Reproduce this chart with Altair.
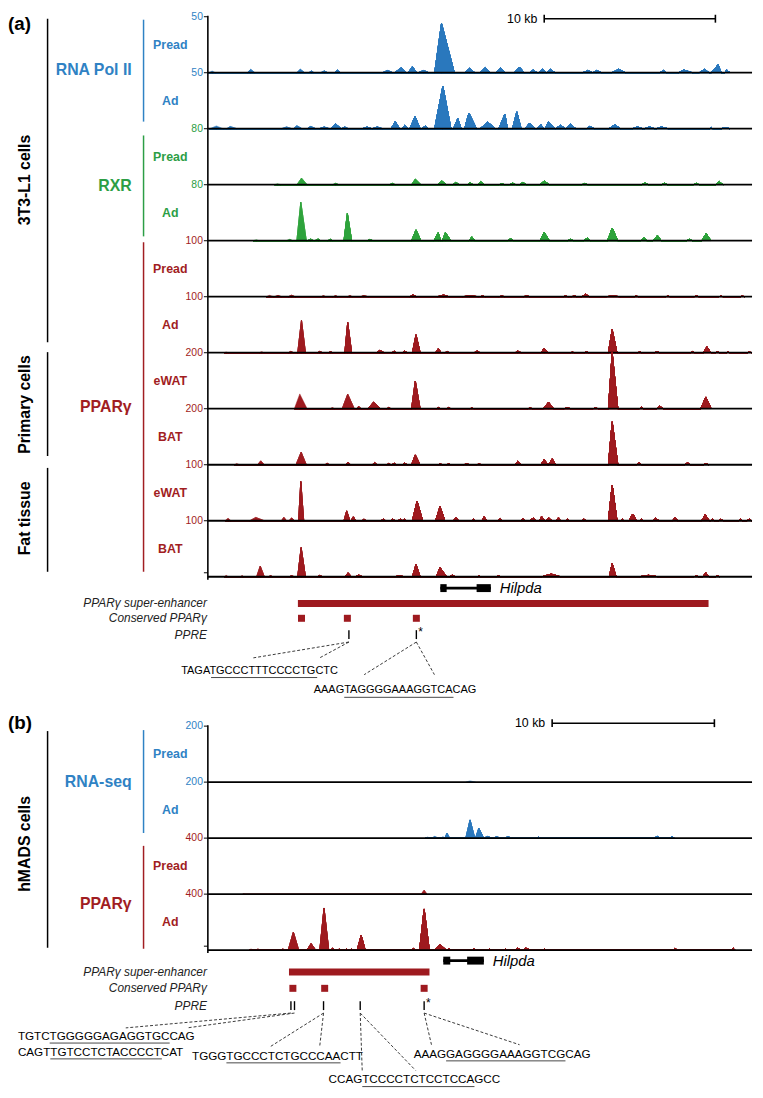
import altair as alt
import pandas as pd

FONT = "Liberation Sans"

# ---------------- signal tracks: peaks (start_kb, apex_kb, end_kb, signal) ----------------
POL2_PREAD = [(0.05,0.25,0.45,1.5),(2.3,2.5,2.75,3),(5.2,5.4,5.65,3),(5.9,6.05,6.2,1.5),(6.6,6.8,7.0,1.5),
              (7.4,7.55,7.75,2.5),(10.2,10.5,10.9,2),(10.8,11.3,11.7,4.5),(11.6,11.95,12.3,5.5),(12.2,12.6,12.9,2),
              (13.25,13.65,14.4,44),(15.0,15.3,15.6,4),(15.9,16.2,16.5,4.5),(16.8,17.1,17.4,4.5),(17.9,18.2,18.5,5),
              (18.8,19.0,19.25,2.5),(19.3,19.55,19.8,3),(19.8,20.0,20.3,3),(21.9,22.2,22.5,2),(22.5,22.7,23.0,2),
              (23.6,24.0,24.4,3),(26.4,26.6,26.8,2),(27.5,27.8,28.3,2.5),(28.7,29.0,29.3,3),(29.4,29.8,30.2,7),
              (30.0,30.3,30.5,2.5)]
POL2_AD = [(0.1,0.5,1.1,2.5),(0.9,1.3,1.7,2),(4.3,4.6,4.9,1.5),(5.0,5.2,5.5,2.5),(5.8,6.0,6.3,2),(6.5,6.8,7.1,1.5),
           (7.2,7.45,7.8,4.5),(7.8,8.0,8.2,1.5),(9.0,9.3,9.6,1.5),(9.6,9.9,10.2,1.5),(10.7,10.95,11.3,6.5),
           (11.2,11.5,11.8,3),(11.7,12.1,12.5,11),(12.4,12.7,12.9,2.5),(13.25,13.73,14.35,38),(14.2,14.6,15.0,9),
           (14.8,15.25,15.9,14),(15.7,16.35,17.0,6),(16.8,17.35,17.8,13),(17.5,18.05,18.5,15),(18.3,18.8,19.2,5),
           (19.1,19.45,19.7,4),(19.6,19.9,20.3,6),(20.3,20.6,20.9,3),(20.9,21.2,21.5,4),(22.1,22.3,22.6,2),
           (23.4,23.8,24.1,3.5),(24.8,25.1,25.4,1.5),(25.5,25.8,26.1,1.5),(26.2,26.5,26.9,1.5),(29.3,29.4,29.5,1),
           (30.0,30.2,30.5,1)]
RXR_PREAD = [(3.9,4.07,4.25,1.5),(5.2,5.47,5.8,9.5),(7.3,7.47,7.65,2),(10.6,10.78,10.95,2),(11.9,12.12,12.45,8),
             (13.4,13.67,13.95,5.5),(14.3,14.49,14.7,3.5),(15.15,15.32,15.5,3),(15.75,15.94,16.15,4.5),
             (17.0,17.17,17.35,1.5),(17.6,17.8,18.0,2.5),(18.2,18.41,18.6,3.5),(19.4,19.65,19.95,5.5),
             (21.85,22.03,22.2,2),(25.35,25.54,25.75,2.5),(26.5,26.67,26.85,2),(28.35,28.53,28.7,2),(29.65,29.87,30.1,4.5)]
RXR_AD = [(2.65,2.83,3.0,1.5),(4.6,4.79,4.95,2),(5.2,5.43,5.75,55),(5.8,6.0,6.2,2.5),(6.25,6.44,6.6,2.5),
          (7.0,7.16,7.3,2),(7.95,8.15,8.4,39),(9.3,9.47,9.65,2),(11.9,12.16,12.45,15.5),(13.2,13.46,13.7,11.5),
          (13.6,13.88,14.2,11.5),(15.25,15.42,15.6,5.5),(17.5,17.69,17.85,3),(19.4,19.65,19.95,12),(21.0,21.2,21.35,2),
          (21.95,22.17,22.35,4),(23.35,23.62,23.95,18),(25.3,25.48,25.65,4.5),(26.0,26.26,26.5,7),(27.95,28.12,28.3,2),
          (28.85,29.11,29.4,10)]
PPARG_PREAD = [(3.4,3.6,3.85,2.5),(3.9,4.1,4.3,2.5),(4.7,4.89,5.1,2.5),(6.6,6.75,6.9,1.2),(7.3,7.47,7.6,1.2),
               (8.15,8.3,8.45,1.2),(8.9,9.1,9.4,1.2),(11.8,11.97,12.2,3.5),(13.4,13.77,14.1,3),(14.9,15.3,15.8,2),
               (15.9,16.04,16.2,1.5),(17.0,17.17,17.35,1.2),(18.45,18.62,18.8,1.8),(20.75,20.89,21.05,1.2),
               (21.25,21.41,21.55,1.5),(21.85,22.07,22.3,4.5),(23.2,23.68,24.1,1.2),(24.9,25.02,25.15,1.2),
               (26.75,26.88,27.0,1.2),(28.4,28.53,28.7,1.2),(29.85,29.97,30.1,1.2),(31.1,31.21,31.35,1.2)]
PPARG_AD = [(0.95,1.07,1.2,1.2),(3.0,3.14,3.3,1.2),(4.7,4.85,5.0,2.5),(5.25,5.47,5.7,58),(6.4,6.54,6.7,2.5),
            (7.05,7.16,7.3,2),(8.0,8.17,8.4,54),(9.85,10.05,10.3,4.5),(10.75,10.88,11.0,3),(11.35,11.5,11.65,3),
            (11.95,12.16,12.4,32),(13.3,13.46,13.65,7),(13.85,13.98,14.1,2),(15.55,15.73,15.9,3),(17.95,18.1,18.3,3),
            (19.45,19.65,19.9,8),(21.2,21.3,21.4,1.2),(22.0,22.13,22.25,2),(23.4,23.62,23.9,41),(25.1,25.23,25.35,1.2),
            (26.1,26.26,26.4,2),(28.2,28.33,28.45,2),(28.95,29.15,29.4,10.5),(29.65,29.77,29.9,2),(30.3,30.39,30.5,1.2),
            (31.5,31.63,31.75,1.2)]
PPARG_EWAT_PRIMARY = [(5.05,5.37,5.8,53),(7.15,7.27,7.4,3.5),(7.85,8.17,8.55,52),(8.7,8.81,8.95,9),(9.35,9.68,10.1,24),
                      (10.45,10.57,10.7,4.5),(11.9,12.12,12.4,99),(13.35,13.46,13.6,4.5),(13.95,14.08,14.2,4.5),
                      (15.3,15.42,15.55,2.5),(18.7,18.83,18.95,3.5),(19.6,19.9,20.2,23.5),(20.8,21.0,21.2,3.5),
                      (22.5,22.65,22.8,3.5),(23.4,23.62,23.95,200),(25.2,25.33,25.45,6),(26.2,26.4,26.6,9.5),
                      (28.8,29.09,29.4,42)]
PPARG_BAT_PRIMARY = [(1.55,1.69,1.85,4.5),(2.9,3.09,3.3,14),(5.15,5.45,5.75,45),(6.85,6.96,7.1,6),(8.05,8.19,8.35,9.5),
                     (9.6,9.74,9.9,8),(10.45,10.57,10.7,4.5),(10.75,10.88,11.0,6),(11.35,11.5,11.65,6),(11.9,12.12,12.4,35),
                     (13.45,13.56,13.7,3.5),(13.95,14.08,14.2,3.5),(14.95,15.11,15.3,3.5),(15.7,15.84,16.0,2.5),
                     (17.9,18.1,18.3,12),(19.45,19.65,19.85,19),(19.9,20.12,20.3,21),(23.4,23.62,23.95,153),
                     (25.05,25.19,25.35,7),(27.85,28.02,28.2,7),(28.95,29.09,29.25,3.5)]
PPARG_EWAT_TISSUE = [(1.0,1.18,1.35,4.7),(2.45,2.8,3.3,5.9),(4.3,4.44,4.6,5.9),(4.75,4.89,5.05,4.7),(5.3,5.43,5.6,70),
                     (7.95,8.11,8.3,17.6),(8.35,8.5,8.65,7),(9.0,9.12,9.25,3),(10.1,10.26,10.4,3),(10.65,10.8,10.95,3),
                     (11.1,11.25,11.4,3),(11.4,11.5,11.6,3),(11.95,12.22,12.55,35),(13.3,13.56,13.85,25),
                     (14.35,14.49,14.65,6),(15.4,15.52,15.65,3),(16.0,16.14,16.3,7),(16.95,17.07,17.2,3.5),
                     (18.3,18.41,18.55,4.7),(18.8,19.0,19.2,4.7),(19.35,19.5,19.7,7),(19.75,19.9,20.1,5.5),
                     (20.35,20.48,20.6,5),(20.9,21.0,21.1,3),(21.85,21.97,22.1,3),(23.4,23.62,23.9,63.5),(24.1,24.2,24.3,3),
                     (24.6,24.82,25.05,12),(25.2,25.33,25.45,3),(26.0,26.16,26.35,4.7),(27.15,27.29,27.45,6),
                     (28.85,29.05,29.3,10.6),(29.35,29.46,29.6,3),(29.85,29.97,30.1,2.5),(31.0,31.11,31.25,3),
                     (31.5,31.63,31.75,3)]
PPARG_BAT_TISSUE = [(0.95,1.07,1.2,2.5),(1.9,2.0,2.1,1.8),(2.85,3.06,3.3,19),(3.55,3.66,3.8,1.8),(4.75,4.89,5.05,1.8),
                    (5.25,5.45,5.7,52),(6.4,6.54,6.7,2.5),(8.0,8.19,8.4,7),(8.6,8.81,9.05,3),(10.9,11.19,11.5,1.8),
                    (11.95,12.16,12.4,22),(13.35,13.56,13.95,16.5),(14.1,14.28,14.45,3),(15.75,15.84,15.95,1.2),
                    (16.85,16.97,17.1,1.8),(19.5,20.06,20.6,4.7),(23.45,23.62,23.85,23.5),(25.2,25.74,26.3,2.5),
                    (28.4,28.53,28.65,1.8),(28.9,29.09,29.3,7),(29.65,29.77,29.9,1.8)]

HM_RNA_PREAD = [(15.9,16.16,16.5,4.5)]
HM_RNA_AD = [(13.4,13.54,13.7,4),(13.8,13.98,14.2,6),(14.3,14.5,14.6,3.5),(14.6,14.74,14.9,17.5),(15.9,16.16,16.5,65),
             (16.45,16.7,17.0,35),(17.0,17.25,17.5,6),(17.5,17.8,18.1,4),(18.2,18.5,18.8,4),(20.3,20.4,20.5,3.5),
             (21.3,21.4,21.5,2),(25.2,25.3,25.4,2),(27.5,27.7,27.9,6),(28.45,28.6,28.75,5)]
HM_PPARG_PREAD = [(2.15,2.22,2.3,3),(13.15,13.33,13.5,28)]
HM_PPARG_AD = [(2.55,2.66,2.78,9),(2.95,3.09,3.2,9),(4.5,4.62,4.75,9),(4.95,5.27,5.6,129),(6.1,6.36,6.65,47),
               (6.9,7.16,7.45,301),(7.55,7.7,7.85,14),(7.95,8.1,8.25,7),(8.4,8.55,8.7,7),(8.75,8.86,8.95,7),
               (9.2,9.45,9.7,106),(12.55,12.67,12.8,12),(13.05,13.33,13.65,294),(13.95,14.31,14.7,42),
               (14.75,14.85,14.95,12),(16.3,16.4,16.5,9),(17.25,17.36,17.45,7),(18.25,18.33,18.4,7),(18.9,19.1,19.3,14),
               (19.4,19.6,19.9,14),(20.65,20.73,20.8,7),(28.65,28.79,28.95,12),(32.25,32.38,32.5,14)]

TRACKS_A = [POL2_PREAD, POL2_AD, RXR_PREAD, RXR_AD, PPARG_PREAD, PPARG_AD,
            PPARG_EWAT_PRIMARY, PPARG_BAT_PRIMARY, PPARG_EWAT_TISSUE, PPARG_BAT_TISSUE]
TRACK_NAMES_A = ["Pread", "Ad", "Pread", "Ad", "Pread", "Ad", "eWAT", "BAT", "eWAT", "BAT"]
TRACK_MAX_A = [50, 50, 80, 80, 100, 100, 200, 200, 100, 100]
TRACK_GROUP_A = ["pol2", "pol2", "rxr", "rxr", "pparg", "pparg", "pparg", "pparg", "pparg", "pparg"]

TRACKS_B = [HM_RNA_PREAD, HM_RNA_AD, HM_PPARG_PREAD, HM_PPARG_AD]
TRACK_NAMES_B = ["Pread", "Ad", "Pread", "Ad"]
TRACK_MAX_B = [200, 200, 400, 400]
TRACK_GROUP_B = ["pol2", "pol2", "pparg", "pparg"]

# ---------------- annotation (kb) ----------------
SE_A = (5.26, 29.25)
CONSERVED_A = [5.47, 8.15, 12.18]
PPRE_A = [8.24, 12.18]
STAR_A = [12.18]
GENE_A = (13.58, 16.53)
EXONS_A = [(13.58, 13.95), (15.70, 16.53)]
SCALEBAR_A = (19.65, 29.65)

SE_B = (5.0, 13.66)
CONSERVED_B = [5.24, 7.2, 13.33]
PPRE_B = [5.12, 5.34, 7.13, 9.39, 13.33]
STAR_B = [13.33]
GENE_B = (14.51, 17.01)
EXONS_B = [(14.51, 14.94), (15.98, 17.01)]
SCALEBAR_B = (21.22, 31.22)

SEQ_A = [("TAGA", "TGCCCTTTCCCCTG", "CTC"), ("AAAG", "TAGGGGAAAGGTCA", "CAG")]
SEQ_B = [("TGTC", "TGGGGGAGAGGTGC", "CAG"), ("CAGT", "TGTCCTCTACCCCT", "CAT"),
         ("TGGG", "TGCCCTCTGCCCAA", "CTT"), ("CCAG", "TCCCCTCTCCTCCA", "GCC"),
         ("AAAG", "GAGGGGAAAGGTCG", "CAG")]

# ---------------- styles / layout ----------------
LABEL_COL = {"pol2": "#2f82c4", "rxr": "#2c9e45", "pparg": "#a11d22"}
FILL_COL = {"pol2": "#2a78bd", "rxr": "#2ea33c", "pparg": "#9e1a1f"}
H = 56.6
TOP_A = 3.0
TOP_B = 720.0
XL, XR = 202, 752
XA = alt.Scale(domain=[0, 31.79], range=[XL, XR], nice=False, zero=False)
XB = alt.Scale(domain=[0, 33.54], range=[XL, XR], nice=False, zero=False)
CHAR_W = {"A": 0.667, "C": 0.722, "G": 0.778, "T": 0.611}


def one():
    return alt.Data(values=[{"k": 0}])


def txt(s, x, y, size=12, color="black", weight="normal", style="normal", align="left", angle=0):
    return alt.Chart(one()).mark_text(text=s, font=FONT, fontSize=size, color=color, fontWeight=weight,
                                      fontStyle=style, align=align, baseline="middle", angle=angle).encode(
        x=alt.value(x), y=alt.value(y))


def seg(x1, y1, x2, y2, color="black", width=1.5, dash=None):
    kw = dict(color=color, strokeWidth=width)
    if dash:
        kw["strokeDash"] = dash
    return alt.Chart(one()).mark_rule(**kw).encode(
        x=alt.value(x1), y=alt.value(y1), x2=alt.value(x2), y2=alt.value(y2))


def track(peaks, vmax, top, xs, color):
    rows = []
    for i, (s, a, e, h) in enumerate(peaks):
        rows += [dict(p=i, x=s, v=0), dict(p=i, x=a, v=h), dict(p=i, x=e, v=0)]
    return alt.Chart(alt.Data(values=rows)).mark_area(
        color=color, stroke=color, strokeWidth=0.5, interpolate="linear").encode(
        x=alt.X("x:Q", scale=xs, axis=None),
        y=alt.Y("v:Q", scale=alt.Scale(domain=[0, vmax], range=[top + H, top], clamp=True, nice=False), axis=None),
        detail="p:N")


def tracks_block(tracks, names, maxes, groups, top0, xs):
    L = []
    n = len(tracks)
    for i in range(n):
        top = top0 + i * H
        g = groups[i]
        L.append(track(tracks[i], maxes[i], top, xs, FILL_COL[g]))
        L.append(seg(XL, top + H, XR, top + H, width=1.8))
        L.append(seg(XL - 4, top, XL, top, width=1))
        L.append(txt(str(maxes[i]), XL - 5, top, size=10.5, color=LABEL_COL[g], align="right"))
        L.append(txt(names[i], 164, top + H / 2, size=12.5, color=LABEL_COL[g], weight="bold", align="center"))
    L.append(seg(XL, top0 - 1, XL, top0 + n * H + 3, width=1.6))
    L.append(seg(XL - 4, top0 + n * H - 4, XL, top0 + n * H - 4, width=1))
    return L


def annotations(xs, se, cons, ppre, star, gene, exons, bar, y_gene, y_se, y_cons, y_ppre, y_bar):
    L = []
    # scale bar
    L.append(alt.Chart(alt.Data(values=[{"s": bar[0], "e": bar[1]}])).mark_rule(color="black", strokeWidth=1.6).encode(
        x=alt.X("s:Q", scale=xs, axis=None), x2="e:Q", y=alt.value(y_bar)))
    L.append(alt.Chart(alt.Data(values=[{"p": bar[0]}, {"p": bar[1]}])).mark_rule(color="black", strokeWidth=1.6).encode(
        x=alt.X("p:Q", scale=xs, axis=None), y=alt.value(y_bar - 4), y2=alt.value(y_bar + 4)))
    L.append(alt.Chart(alt.Data(values=[{"p": bar[0]}])).mark_text(
        text="10 kb", font=FONT, fontSize=12.5, align="right", baseline="middle", dx=-7).encode(
        x=alt.X("p:Q", scale=xs, axis=None), y=alt.value(y_bar)))
    # gene
    L.append(alt.Chart(alt.Data(values=[{"s": gene[0], "e": gene[1]}])).mark_rule(color="black", strokeWidth=2.6).encode(
        x=alt.X("s:Q", scale=xs, axis=None), x2="e:Q", y=alt.value(y_gene)))
    L.append(alt.Chart(alt.Data(values=[{"s": a, "e": b} for a, b in exons])).mark_rect(color="black").encode(
        x=alt.X("s:Q", scale=xs, axis=None), x2="e:Q", y=alt.value(y_gene - 4), y2=alt.value(y_gene + 4)))
    L.append(alt.Chart(alt.Data(values=[{"p": gene[1]}])).mark_text(
        text="Hilpda", font=FONT, fontSize=15, fontStyle="italic", align="left", baseline="middle", dx=9).encode(
        x=alt.X("p:Q", scale=xs, axis=None), y=alt.value(y_gene)))
    # super-enhancer
    L.append(alt.Chart(alt.Data(values=[{"s": se[0], "e": se[1]}])).mark_rect(color=FILL_COL["pparg"]).encode(
        x=alt.X("s:Q", scale=xs, axis=None), x2="e:Q", y=alt.value(y_se - 3.5), y2=alt.value(y_se + 3.5)))
    # conserved
    L.append(alt.Chart(alt.Data(values=[{"p": c} for c in cons])).mark_square(
        color=FILL_COL["pparg"], size=50, opacity=1).encode(
        x=alt.X("p:Q", scale=xs, axis=None), y=alt.value(y_cons)))
    # PPRE
    L.append(alt.Chart(alt.Data(values=[{"p": c} for c in ppre])).mark_rule(color="black", strokeWidth=1.4).encode(
        x=alt.X("p:Q", scale=xs, axis=None), y=alt.value(y_ppre - 5), y2=alt.value(y_ppre + 4)))
    L.append(alt.Chart(alt.Data(values=[{"p": c} for c in star])).mark_text(
        text="*", font=FONT, fontSize=12, align="left", baseline="middle", dx=2).encode(
        x=alt.X("p:Q", scale=xs, axis=None), y=alt.value(y_ppre - 3)))
    # row labels
    L.append(txt("PPARγ super-enhancer", 201, y_se, size=12, color="#222", style="italic", align="right"))
    L.append(txt("Conserved PPARγ", 201, y_cons, size=12, color="#222", style="italic", align="right"))
    L.append(txt("PPRE", 201, y_ppre, size=12, color="#222", style="italic", align="right"))
    return L


def connector(kb, y1, x2, y2, xs):
    return alt.Chart(alt.Data(values=[{"p": kb}])).mark_rule(color="#222", strokeWidth=0.9, strokeDash=[3, 2]).encode(
        x=alt.X("p:Q", scale=xs, axis=None), y=alt.value(y1), x2=alt.value(x2), y2=alt.value(y2))


def sequence(parts, x, y, size):
    pre, mid, post = parts
    w = lambda s: sum(CHAR_W[c] for c in s) * size
    x1 = x + w(pre)
    x2 = x1 + w(mid)
    return [txt(pre + mid + post, x, y, size=size, color="black"),
            seg(x1, y + size * 0.62, x2, y + size * 0.62, color="#333", width=0.9)]


layers = []

# ---------------- panel (a) ----------------
layers.append(txt("(a)", 0, 10, size=19, weight="bold"))
layers += tracks_block(TRACKS_A, TRACK_NAMES_A, TRACK_MAX_A, TRACK_GROUP_A, TOP_A, XA)
layers += [seg(40, 5, 40, 332), seg(40, 342, 40, 447), seg(40, 459, 40, 564)]
layers += [txt("3T3-L1 cells", 17, 168, size=16, weight="bold", align="center", angle=270),
           txt("Primary cells", 17, 395, size=16, weight="bold", align="center", angle=270),
           txt("Fat tissue", 17, 510, size=16, weight="bold", align="center", angle=270)]
layers += [seg(137, 6, 137, 109, color=LABEL_COL["pol2"]),
           seg(137, 123, 137, 225, color=LABEL_COL["rxr"]),
           seg(137, 231, 137, 564, color=LABEL_COL["pparg"])]
layers += [txt("RNA Pol II", 125, 57, size=16, weight="bold", color=LABEL_COL["pol2"], align="right"),
           txt("RXR", 125, 174, size=16, weight="bold", color=LABEL_COL["rxr"], align="right"),
           txt("PPARγ", 125, 397, size=16, weight="bold", color=LABEL_COL["pparg"], align="right")]
layers += annotations(XA, SE_A, CONSERVED_A, PPRE_A, STAR_A, GENE_A, EXONS_A, SCALEBAR_A,
                      y_gene=580.5, y_se=596, y_cons=611, y_ppre=628, y_bar=5)
layers += [connector(PPRE_A[0], 635, 248, 651, XA), connector(PPRE_A[0], 635, 315, 651, XA),
           connector(PPRE_A[1], 635, 360, 668, XA), connector(PPRE_A[1], 635, 431, 668, XA)]
layers += sequence(SEQ_A[0], 175, 664, 11.1)
layers += sequence(SEQ_A[1], 309, 684, 11.1)

# ---------------- panel (b) ----------------
layers.append(txt("(b)", 0, 717, size=19, weight="bold"))
layers += tracks_block(TRACKS_B, TRACK_NAMES_B, TRACK_MAX_B, TRACK_GROUP_B, TOP_B, XB)
layers += [seg(40, 725, 40, 944)]
layers += [txt("hMADS cells", 17, 839, size=16, weight="bold", align="center", angle=270)]
layers += [seg(137, 724, 137, 828, color=LABEL_COL["pol2"]),
           seg(137, 841, 137, 945, color=LABEL_COL["pparg"])]
layers += [txt("RNA-seq", 125, 777, size=16, weight="bold", color=LABEL_COL["pol2"], align="right"),
           txt("PPARγ", 125, 900, size=16, weight="bold", color=LABEL_COL["pparg"], align="right")]
layers += annotations(XB, SE_B, CONSERVED_B, PPRE_B, STAR_B, GENE_B, EXONS_B, SCALEBAR_B,
                      y_gene=957, y_se=968.5, y_cons=985, y_ppre=1003, y_bar=717)
layers += [connector(PPRE_B[0], 1010, 119, 1025, XB), connector(PPRE_B[1], 1010, 181, 1025, XB),
           connector(PPRE_B[2], 1010, 265, 1044, XB), connector(PPRE_B[2], 1010, 315, 1044, XB),
           connector(PPRE_B[3], 1010, 358, 1068, XB), connector(PPRE_B[3], 1010, 412, 1068, XB),
           connector(PPRE_B[4], 1010, 428, 1042, XB), connector(PPRE_B[4], 1010, 517, 1042, XB)]
layers += sequence(SEQ_B[0], 10, 1033, 11.8)
layers += sequence(SEQ_B[1], 10, 1049, 11.8)
layers += sequence(SEQ_B[2], 186, 1053, 11.8)
layers += sequence(SEQ_B[3], 324, 1077, 11.8)
layers += sequence(SEQ_B[4], 410, 1051, 11.8)

chart = alt.layer(*layers).resolve_scale(x="independent", y="independent").properties(
    width=755, height=1088, autosize=alt.AutoSizeParams(type="none"), padding=0
).configure_view(stroke=None)

chart.save("out.html", embed_options={"renderer": "svg", "actions": False})
